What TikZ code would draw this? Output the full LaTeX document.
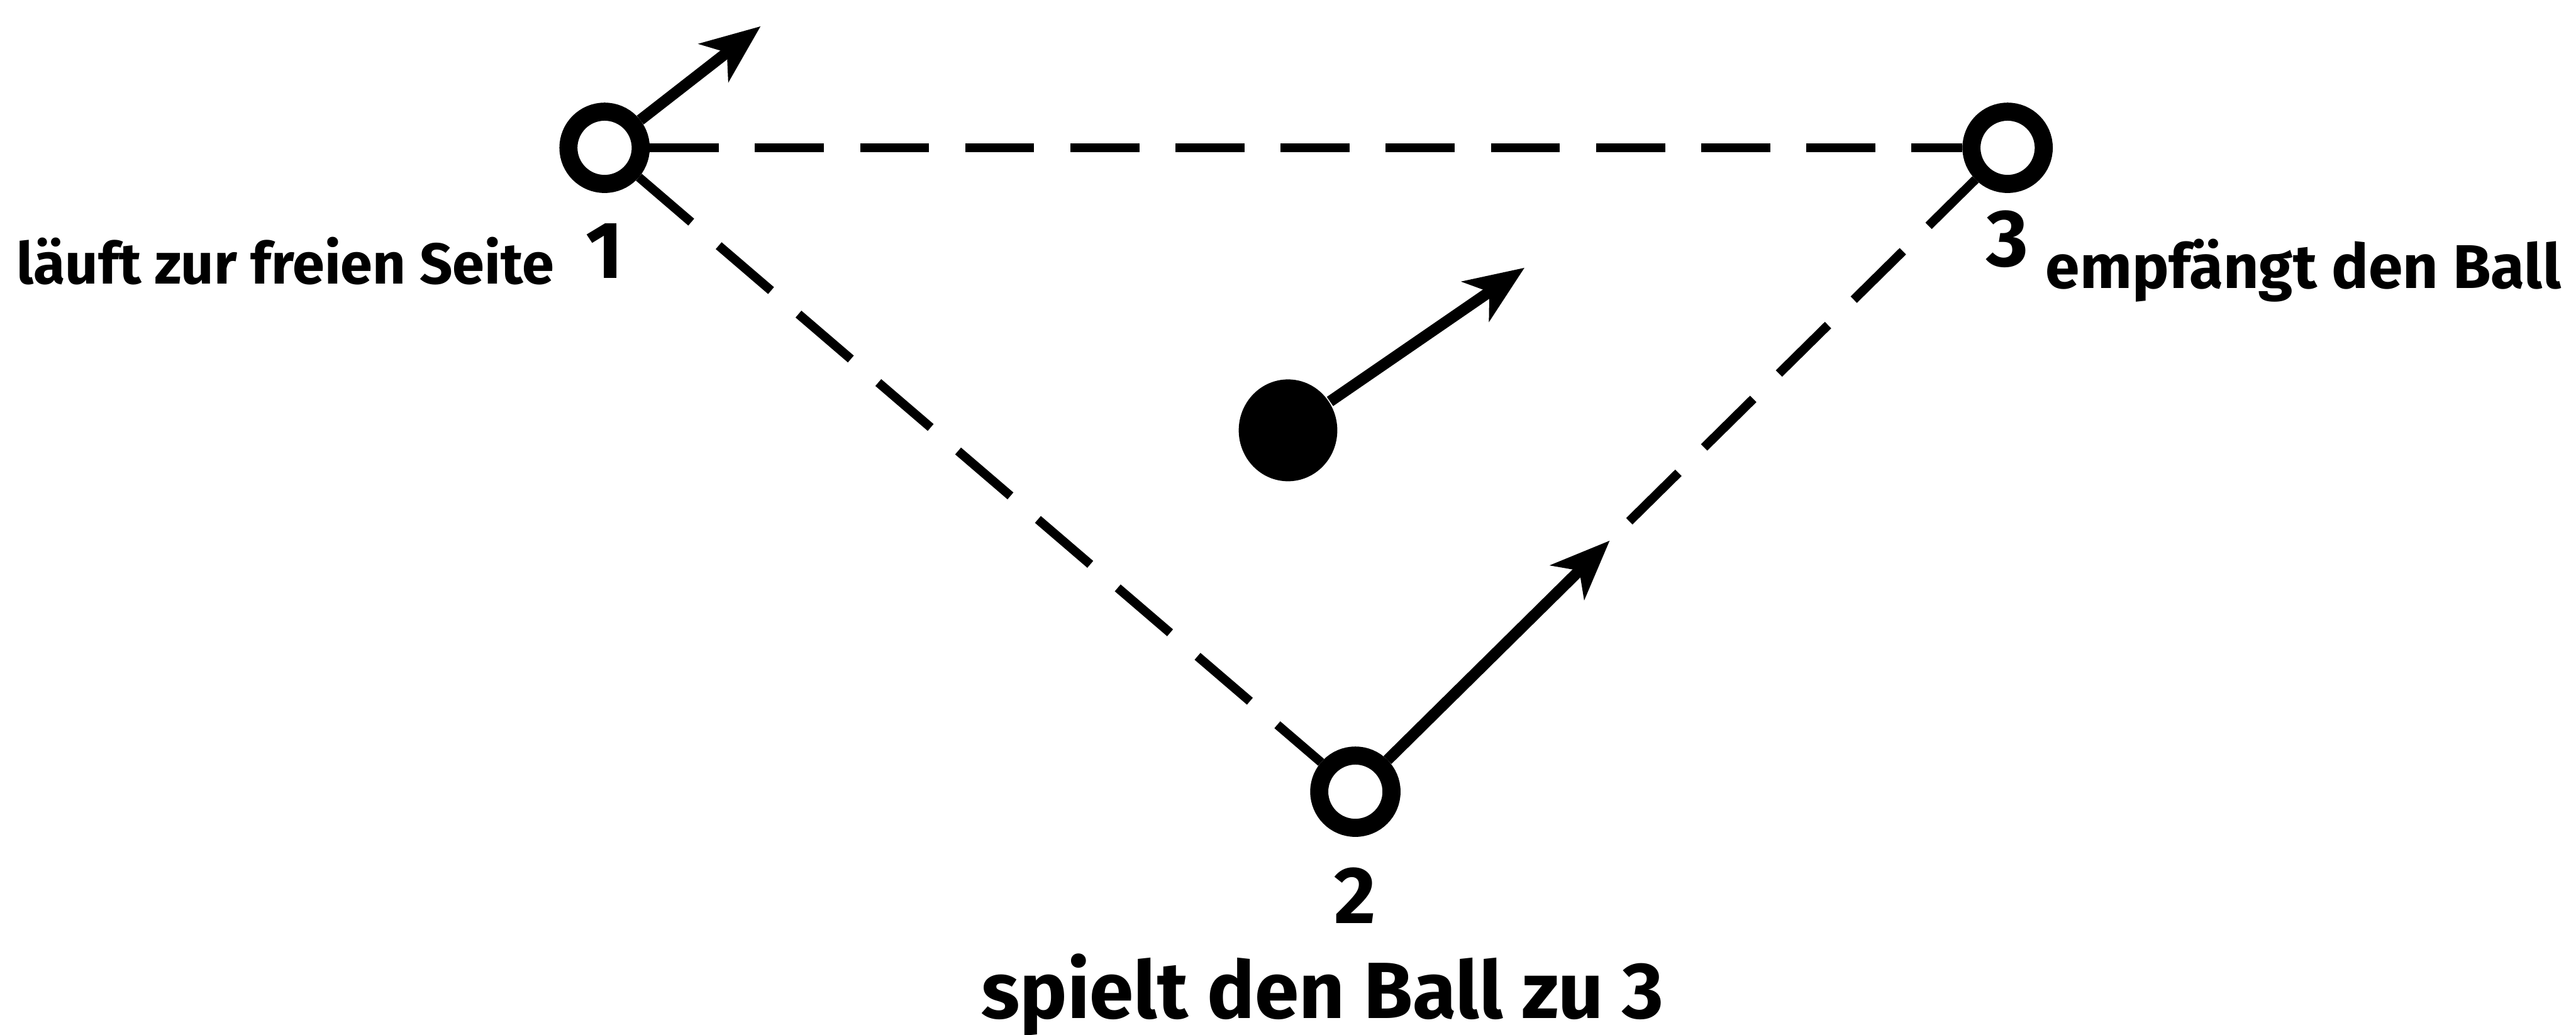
\documentclass[tikz,border=0pt]{standalone}
\usepackage{fontspec}
\setmainfont{Fira Sans}
\usepackage{tikz}
\usetikzlibrary{positioning, arrows.meta, calc, shapes.geometric}

\begin{document}
\begin{tikzpicture}[node distance=0.2cm and 0.2cm, >={Stealth[length=0.36cm, width=0.29cm, inset=0.10cm]},
    player/.style={draw, circle, line width=0.11cm, minimum size=0.44cm, inner sep=0pt},
    ballnode/.style={ellipse, fill=black, minimum width=0.60cm, minimum height=0.62cm, inner sep=0pt},
    num/.style={font=\bfseries\fontsize{14}{16}\selectfont, inner sep=0pt},
    note/.style={font=\bfseries\fontsize{10}{12}\selectfont, inner sep=0pt},
    run/.style={line width=0.068cm},
    way/.style={line width=0.055cm, dash pattern=on 0.42cm off 0.22cm}]
    \useasboundingbox (0,0) rectangle (15.68,6.30);

    % players and ball
    \node [player] (p1) at (3.68,5.40) {};
    \node [player] (p3) at (12.22,5.40) {};
    \node [player] (p2) at (8.25,1.48) {};
    \node [ballnode] (ball) at (7.84,3.68) {};

    % numbers and notes
    \node [num, below=0.18cm of p1] (n1) {1};
    \node [num, below=0.18cm of p2] (n2) {2};
    \node [num, below=0.10cm of p3] (n3) {3};
    \node [note, left=0.18cm of n1, yshift=-0.06cm] (t1) {läuft zur freien Seite};
    \node [note, right=0.09cm of n3, yshift=-0.19cm, font=\bfseries\fontsize{10.7}{13}\selectfont] (t3) {empfängt den Ball};
    \node [note, below=0.17cm of n2, xshift=-0.2cm, font=\bfseries\fontsize{13.8}{16}\selectfont] (t2) {spielt den Ball zu 3};

    % runs and passes
    \coordinate (go1) at (4.63,6.14);
    \coordinate (goball) at (9.28,4.67);
    \coordinate (pass) at ($(p2)!0.39!(p3)$);
    \coordinate (passrest) at ($(p2)!0.42!(p3)$);

    \draw [way] (p1) -- (p3);
    \draw [way] (p1) -- (p2);
    \draw [way] (passrest) -- (p3);
    \draw [run, ->] (p2) -- (pass);
    \draw [run, ->] (p1) -- (go1);
    \draw [run, ->] (ball) -- (goball);
\end{tikzpicture}
\end{document}
